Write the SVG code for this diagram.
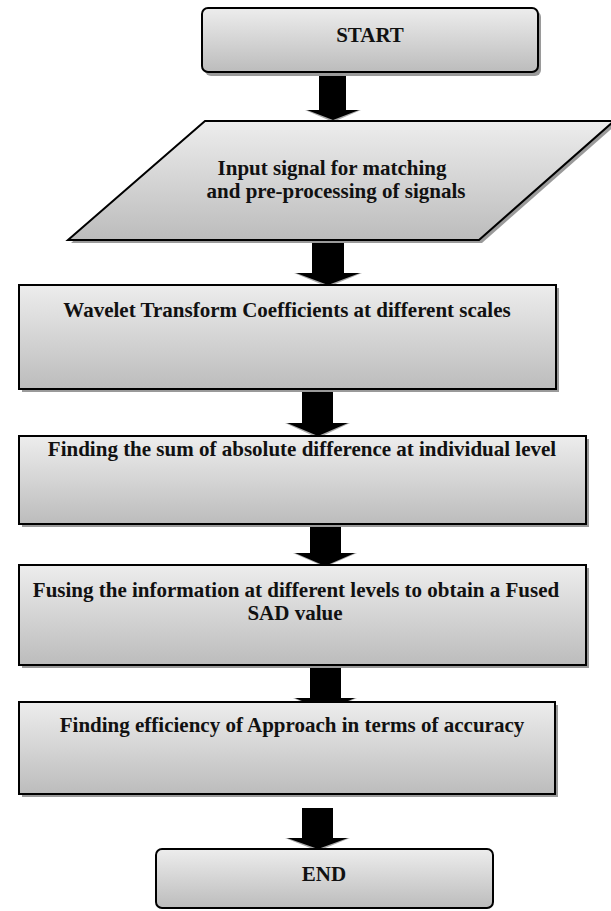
<svg xmlns="http://www.w3.org/2000/svg" width="611" height="911" viewBox="0 0 611 911">
<defs>
<linearGradient id="g" x1="0" y1="0" x2="0" y2="1">
<stop offset="0" stop-color="#ededed"/>
<stop offset="1" stop-color="#bcbcbc"/>
</linearGradient>
</defs>
<style>
.box{fill:url(#g);stroke:#000;stroke-width:2}
.sh{fill:#9a9a9a}
.arr{fill:#000}
.ash{fill:#aaaaaa}
text{font-family:"Liberation Serif","Times New Roman",serif;font-weight:bold;font-size:21px;fill:#111;text-anchor:middle}
</style>
<rect width="611" height="911" fill="#fff"/>
<g id="connectors">
<path class="ash" d="M305,110 H361 L333,122 Z"/>
<path class="arr" d="M319,72 H346 V110 H359 L333,120 L307,110 H319 Z"/>
<path class="ash" d="M294,273 H362 L328,287 Z"/>
<path class="arr" d="M312,240 H344 V273 H360 L328,285 L296,273 H312 Z"/>
<path class="ash" d="M285,423 H350 L318,438 Z"/>
<path class="arr" d="M302,387 H333 V423 H348 L318,436 L287,423 H302 Z"/>
<path class="ash" d="M293,553 H357 L325,567 Z"/>
<path class="arr" d="M310,516 H341 V553 H355 L325,566 L295,553 H310 Z"/>
<path class="ash" d="M293,698 H357 L325,712 Z"/>
<path class="arr" d="M310,665 H341 V698 H355 L325,711 L295,698 H310 Z"/>
<path class="ash" d="M285,838 H350 L318,851 Z"/>
<path class="arr" d="M302,808 H333 V838 H348 L318,849 L287,838 H302 Z"/>
</g>
<g id="start">
<rect class="sh" x="205" y="11" width="336" height="65" rx="6"/>
<rect class="box" x="202" y="8" width="336" height="64" rx="6"/>
<text x="370" y="42">START</text>
</g>
<g id="input">
<polygon class="sh" points="208,124 617,124 482,243 71,243"/>
<polygon class="box" points="205,121 614,121 479,240 68,240" stroke-width="1.6"/>
<text x="332" y="175">Input signal for matching</text>
<text x="336" y="198">and pre-processing of signals</text>
</g>
<g id="wavelet">
<rect class="sh" x="22" y="288" width="537" height="104"/>
<rect class="box" x="19" y="285" width="537" height="104"/>
<text x="287" y="317">Wavelet Transform Coefficients at different scales</text>
</g>
<g id="sad">
<rect class="sh" x="22" y="439" width="567" height="88"/>
<rect class="box" x="19" y="436" width="567" height="88"/>
<text x="302" y="456">Finding the sum of absolute difference at individual level</text>
</g>
<g id="fuse">
<rect class="sh" x="22" y="568" width="567" height="100"/>
<rect class="box" x="19" y="565" width="567" height="100"/>
<text x="296" y="597">Fusing the information at different levels to obtain a Fused</text>
<text x="295" y="620">SAD value</text>
</g>
<g id="efficiency">
<rect class="sh" x="22" y="705" width="536" height="92"/>
<rect class="box" x="19" y="702" width="536" height="92"/>
<text x="292" y="732">Finding efficiency of Approach in terms of accuracy</text>
</g>
<g id="end">
<rect class="box" x="156" y="849" width="337" height="59" rx="6"/>
<text x="324" y="881">END</text>
</g>
</svg>
